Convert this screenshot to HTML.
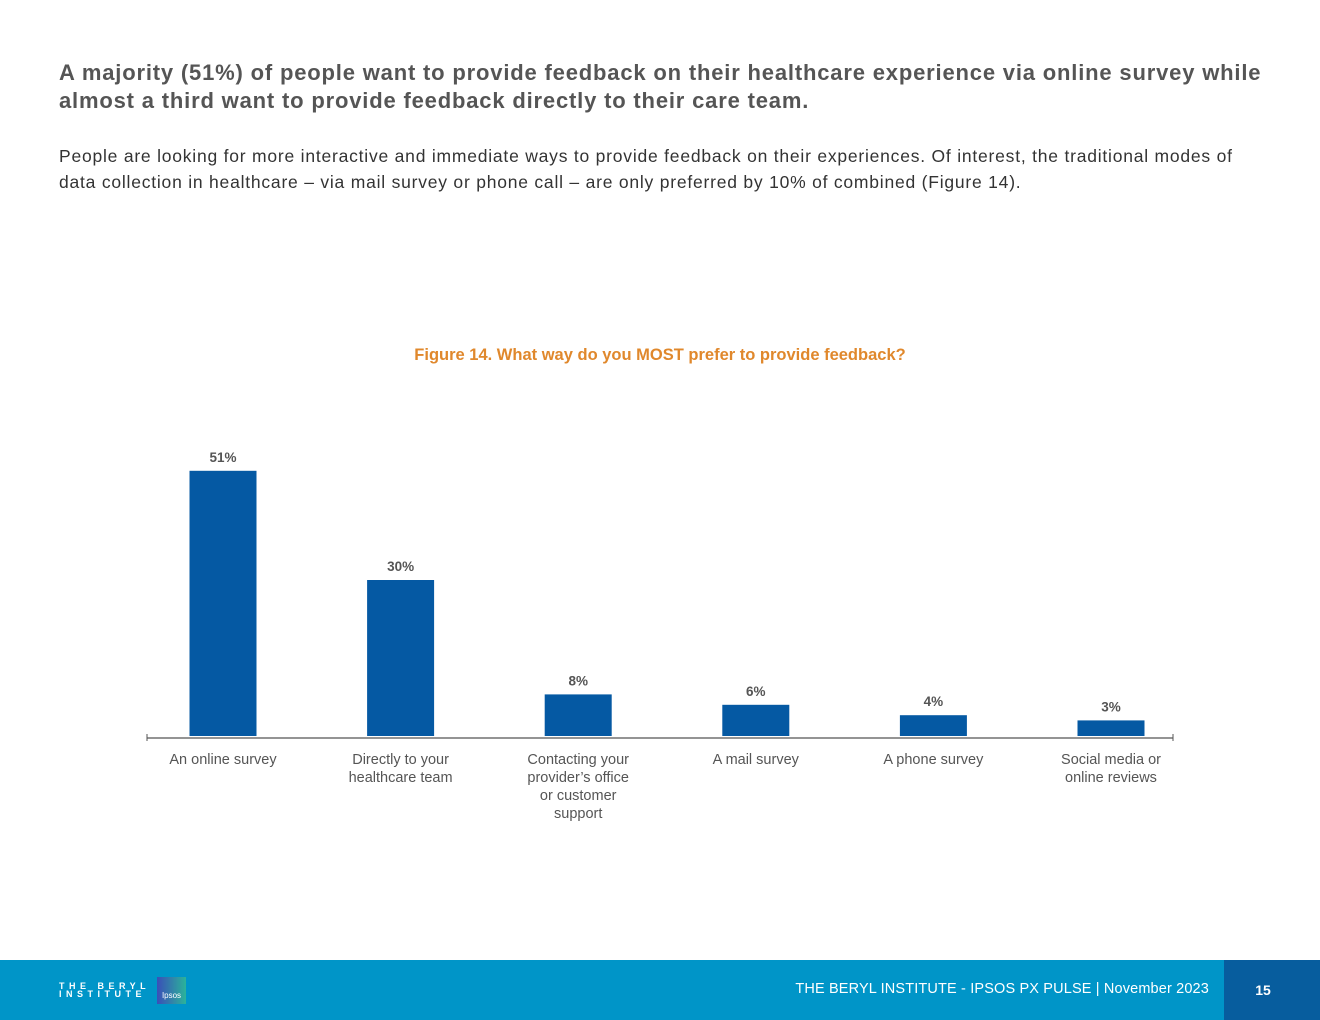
<!DOCTYPE html>
<html><head><meta charset="utf-8"><style>
body{margin:0;width:1320px;height:1020px;position:relative;background:#fff;font-family:"Liberation Sans",sans-serif;overflow:hidden}
.h{position:absolute;left:59px;top:59px;width:1215px;font-size:22px;font-weight:bold;color:#555;line-height:28px;letter-spacing:0.82px}
.p{position:absolute;left:59px;top:143px;width:1185px;font-size:17.5px;color:#333;line-height:26px;letter-spacing:0.78px}
.ft{position:absolute;left:0;top:960px;width:1320px;height:60px;background:#0095c8}
</style></head><body>
<div class="h">A majority (51%) of people want to provide feedback on their healthcare experience via online survey while almost a third want to provide feedback directly to their care team.</div>
<div class="p">People are looking for more interactive and immediate ways to provide feedback on their experiences. Of interest, the traditional modes of data collection in healthcare – via mail survey or phone call – are only preferred by 10% of combined (Figure 14).</div>
<svg id="chart" style="position:absolute;left:0;top:0" width="1320" height="960">
<text x="660" y="360" text-anchor="middle" font-size="16.5" font-weight="bold" fill="#e0882c" font-family="Liberation Sans, sans-serif">Figure 14. What way do you MOST prefer to provide feedback?</text>
<line x1="147" y1="738" x2="1173" y2="738" stroke="#555" stroke-width="1.2"/>
<line x1="147" y1="734" x2="147" y2="741" stroke="#555"/><line x1="1173" y1="734" x2="1173" y2="741" stroke="#555"/>
</svg>
<div class="ft">
<div style="position:absolute;left:59px;top:22px;color:#fff;font-size:9px;font-weight:bold;letter-spacing:4.5px;line-height:8px">THE BERYL<br>INSTITUTE</div>
<div style="position:absolute;left:157px;top:17px;width:29px;height:27px;background:linear-gradient(90deg,#3a4fb8,#2bb39a);color:#fff;font-size:8px;text-align:center;line-height:38px">Ipsos</div>
<div style="position:absolute;right:111px;top:21px;color:#fff;font-size:14.5px;letter-spacing:0.15px">THE BERYL INSTITUTE - IPSOS PX PULSE | November 2023</div>
<div style="position:absolute;left:1224px;top:0;width:78px;height:60px;background:#075d9e;color:#fff;font-size:14px;font-weight:bold;text-align:center;line-height:60px;padding-right:18px">15</div>
</div>
<script>
const categories=[["An online survey"],["Directly to your","healthcare team"],["Contacting your","provider’s office","or customer","support"],["A mail survey"],["A phone survey"],["Social media or","online reviews"]];
const values=[51,30,8,6,4,3];
const labels=["51%","30%","8%","6%","4%","3%"];
const svg=document.getElementById('chart');const NS="http://www.w3.org/2000/svg";
const base=736,scale=5.2,x0=223,step=177.6,bw=67;
const xs=i=>x0+i*step, ys=v=>base-v*scale;
values.forEach((v,i)=>{
const r=document.createElementNS(NS,'rect');
r.setAttribute('x',xs(i)-bw/2);r.setAttribute('y',ys(v));r.setAttribute('width',bw);r.setAttribute('height',base-ys(v));r.setAttribute('fill','#0559a3');


svg.appendChild(r);
const t=document.createElementNS(NS,'text');
t.setAttribute('x',xs(i));t.setAttribute('y',ys(v)-9);t.setAttribute('text-anchor','middle');t.setAttribute('font-size','13.5');t.setAttribute('font-weight','bold');t.setAttribute('fill','#555');
t.textContent=labels[i];


svg.appendChild(t);
categories[i].forEach((ln,j)=>{
const c=document.createElementNS(NS,'text');
c.setAttribute('x',xs(i));c.setAttribute('y',764+j*18);c.setAttribute('text-anchor','middle');c.setAttribute('font-size','14.5');c.setAttribute('fill','#555');
c.textContent=ln;


svg.appendChild(c);});
});
</script>
</body></html>
